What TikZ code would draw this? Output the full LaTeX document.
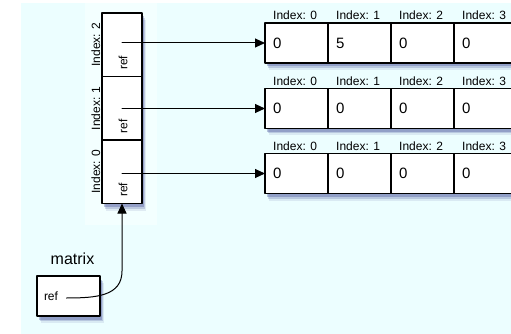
\documentclass[tikz,border=0pt]{standalone}
\usepackage{fontspec}
\setmainfont{Liberation Sans}
\usetikzlibrary{arrows.meta}
\usetikzlibrary{shadows}
\definecolor{bgcyan}{RGB}{236,254,255}
\definecolor{bgpale}{RGB}{243,255,255}
\definecolor{shadowblue}{RGB}{55,65,145}
\newcommand\idxfont{\fontsize{12}{14}\selectfont}
\newcommand\valfont{\fontsize{15}{17}\selectfont}
\newcommand\reffont{\fontsize{12}{14}\selectfont}
\newcommand\matfont{\fontsize{16}{18}\selectfont}
\tikzset{
  cellbox/.style={draw, fill=white, line width=1.2pt, outer sep=0pt, inner sep=0pt,
    drop shadow={shadow xshift=4pt, shadow yshift=-7pt, fill=shadowblue, opacity=.1},
    drop shadow={shadow xshift=3pt, shadow yshift=-5pt, fill=shadowblue, opacity=.2},
    drop shadow={shadow xshift=2pt, shadow yshift=-3.5pt, fill=shadowblue, opacity=.3}},
  valbox/.style={cellbox, minimum width=63pt, minimum height=40pt, text width=47pt,
    inner xsep=8pt, align=left, font=\valfont},
  idxlabel/.style={font=\idxfont, inner sep=0pt, anchor=south west, xshift=8pt, yshift=3pt}
}

\begin{document}
\begin{tikzpicture}[line cap=round,line join=round,>={Triangle[length=10pt,width=9pt]},x=1pt,y=-1pt]
\useasboundingbox (0,0) rectangle (511,334);
\fill[bgcyan] (21,3) rectangle (511,334);
\fill[bgpale] (85,3) rectangle (157,225);
%
% the column of refs
\foreach \r/\y in {2/44.75,1/108.25,0/171.75}{
  \node[cellbox, minimum width=40pt, minimum height=63.5pt] (ref\r) at (122,\y) {};
  \node[rotate=90, font=\reffont] (reftext\r) at ([shift={(1,18)}]ref\r.center) {ref};
  \node[rotate=90, anchor=south, font=\idxfont, inner sep=1.5pt] (idx\r) at (ref\r.west) {Index: \r};
}
%
% the rows
\foreach \r/\y/\va/\vb/\vc/\vd in {2/43/0/5/0/0,1/108.5/0/0/0/0,0/173.5/0/0/0/0}{
  \foreach \c/\v in {0/\va,1/\vb,2/\vc,3/\vd}
    \node[valbox, label={[idxlabel]north west:Index: \c}] (a\r\c) at (296.5+63*\c,\y) {\v};
  \draw[->, line width=1pt] (ref\r.center |- a\r0.west) -- (a\r0.west);
}
%
\node[cellbox, minimum width=63pt, minimum height=40pt, text width=49pt, inner xsep=7pt,
  align=left, font=\reffont,
  label={[font=\matfont, inner sep=0pt, label distance=11pt, xshift=4pt]above:matrix}] (mat) at (68.5,296) {ref};
\coordinate (mref) at ([shift={(-2,2)}]mat.center);
\coordinate (bend) at ([yshift=-67.5pt]ref0.south);
\draw[->, line width=1pt] (mref) .. controls +(30,0) and +(0,25) .. (bend) -- (ref0.south);
\end{tikzpicture}
\end{document}
